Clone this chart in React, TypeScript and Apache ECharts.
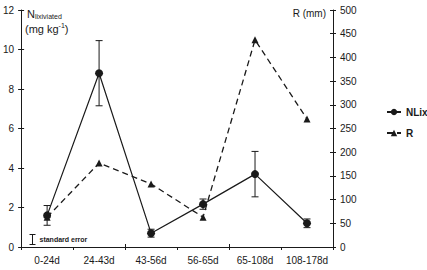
import React, { useEffect, useRef } from "react";
import * as echarts from "echarts";

// Sampling periods
const periods = ["0-24d", "24-43d", "43-56d", "56-65d", "65-108d", "108-178d"];
// Leached nitrogen (mg kg-1) and its standard error
const nlix = [1.6, 8.8, 0.7, 2.17, 3.69, 1.2];
const nlixErr = [0.5, 1.65, 0.2, 0.26, 1.15, 0.22];
// Rainfall R (mm)
const rain = [63, 177, 133, 63, 437, 270];

const leftTicks = { min: 0, max: 12, interval: 2 };
const rightTicks = { min: 0, max: 500, interval: 50 };

const FONT = "'Liberation Sans', Arial, sans-serif";
const INK = "#1a1a1a";

export default function App() {
  const ref = useRef<HTMLDivElement>(null);

  useEffect(() => {
    if (!ref.current) return;
    const chart = echarts.init(ref.current, undefined, { renderer: "svg" });

    const errData = nlix.map((v, i) => [i, v - nlixErr[i], v + nlixErr[i]]);

    const baseY = (t: typeof leftTicks, pos: "left" | "right", withLabels: boolean, inside: boolean) => ({
      type: "value",
      position: pos,
      min: t.min,
      max: t.max,
      interval: t.interval,
      splitLine: { show: false },
      axisLine: { show: withLabels, lineStyle: { color: INK, width: 1 } },
      axisTick: { show: true, inside, length: 3, lineStyle: { color: INK } },
      axisLabel: {
        show: withLabels,
        margin: 7,
        color: INK,
        fontSize: 10,
        fontFamily: FONT,
      },
    });

    chart.setOption({
      animation: false,
      grid: { left: 21, right: 94, top: 10, bottom: 23, containLabel: false },
      xAxis: [
        {
          type: "category",
          data: periods,
          boundaryGap: true,
          axisLine: { lineStyle: { color: INK, width: 1 } },
          axisTick: { show: true, length: 3, alignWithLabel: false, lineStyle: { color: INK } },
          axisLabel: { color: INK, fontSize: 10, fontFamily: FONT, margin: 8, interval: 0 },
          splitLine: { show: false },
        },
        {
          type: "category",
          data: periods,
          position: "bottom",
          boundaryGap: true,
          axisLine: { show: false },
          axisTick: { show: true, inside: true, length: 3, lineStyle: { color: INK } },
          axisLabel: { show: false },
          splitLine: { show: false },
        },
      ],
      yAxis: [
        baseY(leftTicks, "left", true, false),
        baseY(rightTicks, "right", true, false),
        baseY(leftTicks, "left", false, true),
        baseY(rightTicks, "right", false, true),
      ],
      legend: {
        orient: "vertical",
        left: 381,
        top: 102,
        itemWidth: 14,
        itemHeight: 8,
        itemGap: 11,
        selectedMode: false,
        textStyle: {
          color: INK,
          fontSize: 10,
          fontWeight: "bold",
          fontFamily: FONT,
        },
        data: ["NLix", "R"],
      },
      graphic: [
        {
          type: "text",
          left: 27,
          top: 8,
          style: {
            text: "N{sub|lixiviated}",
            fill: INK,
            font: `11px ${FONT}`,
            rich: {
              sub: { fontSize: 7, fontFamily: FONT, fill: INK, padding: [6, 0, 0, 0] },
            },
          },
        },
        {
          type: "text",
          left: 25,
          top: 22,
          style: {
            text: "(mg kg{sup|-1})",
            fill: INK,
            font: `11px ${FONT}`,
            rich: {
              sup: { fontSize: 7, fontFamily: FONT, fill: INK, padding: [0, 0, 6, 0] },
            },
          },
        },
        {
          type: "text",
          right: 101,
          top: 8,
          style: { text: "R (mm)", fill: INK, font: `10px ${FONT}` },
        },
        // standard error key
        {
          type: "group",
          left: 27,
          top: 232,
          children: [
            { type: "line", shape: { x1: 3, y1: 0, x2: 3, y2: 10 }, style: { stroke: INK, lineWidth: 1 } },
            { type: "line", shape: { x1: 0, y1: 0, x2: 6, y2: 0 }, style: { stroke: INK, lineWidth: 1 } },
            { type: "line", shape: { x1: 0, y1: 10, x2: 6, y2: 10 }, style: { stroke: INK, lineWidth: 1 } },
            {
              type: "text",
              x: 10,
              y: 1.5,
              style: { text: "standard error", fill: INK, font: `bold 7px ${FONT}` },
            },
          ],
        },
      ],
      series: [
        {
          name: "NLix",
          type: "line",
          yAxisIndex: 0,
          data: nlix,
          symbol: "circle",
          symbolSize: 8,
          itemStyle: { color: INK },
          lineStyle: { color: INK, width: 1.2 },
          z: 3,
        },
        {
          name: "R",
          type: "line",
          yAxisIndex: 1,
          data: rain,
          symbol: "triangle",
          symbolSize: 7,
          itemStyle: { color: INK },
          lineStyle: { color: INK, width: 1.3, type: [6, 4] },
          z: 4,
        },
        {
          name: "err",
          type: "custom",
          yAxisIndex: 0,
          data: errData,
          z: 5,
          renderItem: (_params: any, api: any) => {
            const x = api.value(0);
            const lo = api.coord([x, api.value(1)]);
            const hi = api.coord([x, api.value(2)]);
            const w = 3.5;
            const style = { stroke: INK, lineWidth: 1 };
            return {
              type: "group",
              children: [
                { type: "line", shape: { x1: lo[0], y1: lo[1], x2: hi[0], y2: hi[1] }, style },
                { type: "line", shape: { x1: hi[0] - w, y1: hi[1], x2: hi[0] + w, y2: hi[1] }, style },
                { type: "line", shape: { x1: lo[0] - w, y1: lo[1], x2: lo[0] + w, y2: lo[1] }, style },
              ],
            };
          },
        },
      ],
    });

    return () => chart.dispose();
  }, []);

  return (
    <div
      ref={ref}
      style={{ width: 427, height: 270, position: "absolute", left: 0, top: 0, background: "#fff" }}
    />
  );
}
